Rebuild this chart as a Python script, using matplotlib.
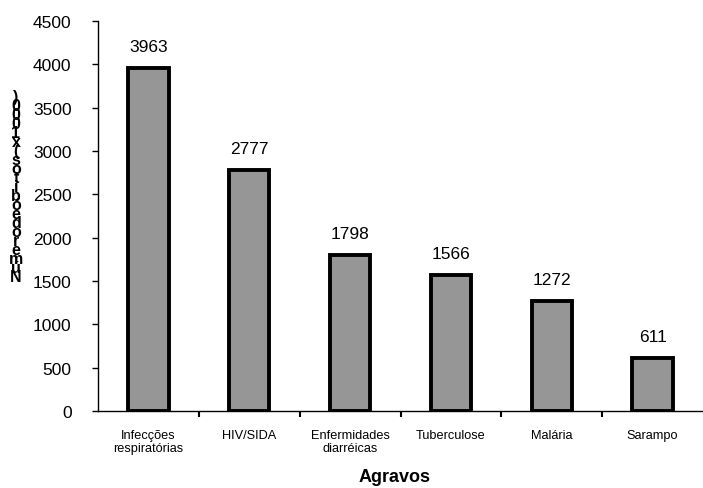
import numpy as np
import matplotlib
matplotlib.use("Agg")
from matplotlib import pyplot as plt

agravos = ["Infecções\nrespiratórias", "HIV/SIDA", "Enfermidades\ndiarréicas",
           "Tuberculose", "Malária", "Sarampo"]
obitos = [3963, 2777, 1798, 1566, 1272, 611]
yticks = [0, 500, 1000, 1500, 2000, 2500, 3000, 3500, 4000, 4500]
ylabel = "Número de óbitos (x1000)"

plt.rcParams['font.family'] = ['Liberation Sans', 'DejaVu Sans']

fig = plt.figure(figsize=(7.03, 4.89), dpi=100)
ax = fig.add_axes([98/703, 1-412/489, 605/703, 390/489])

x = np.arange(len(agravos))
bars = ax.bar(x, obitos, width=0.4, color='#969696', edgecolor='black', linewidth=2.8)

for xi, v in zip(x, obitos):
    ax.annotate(str(v), (xi, v), xytext=(0, 10), textcoords='offset points',
                ha='center', va='bottom', fontsize=12.5)

ax.set_xlim(-0.5, len(agravos) - 0.5)
ax.set_ylim(0, 4500)
ax.set_yticks(yticks)
ax.tick_params(axis='y', labelsize=12.5, length=4, width=1, direction='out', pad=15)

ax.set_xticks(x)
ax.set_xticklabels(agravos, fontsize=9.2, linespacing=1.1)
ax.tick_params(axis='x', which='major', length=0, pad=13)
ax.set_xticks(np.arange(0.5, len(agravos) - 0.5, 1), minor=True)
ax.tick_params(axis='x', which='minor', length=4, width=1.5, direction='out')

for s in ['top', 'right']:
    ax.spines[s].set_visible(False)
ax.spines['left'].set_linewidth(1)
ax.spines['bottom'].set_linewidth(1)

ax.set_xlabel("Agravos", fontsize=13, fontweight='bold')
ax.xaxis.set_label_coords(0.49, -0.145)

# eixo y: caracteres empilhados em ordem inversa
stacked = "\n".join(c for c in reversed(ylabel) if c != ' ')
fig.text(16/703, 1-188/489, stacked, ha='center', va='center', fontsize=11.5,
         fontweight='bold', linespacing=0.5, multialignment='center')

fig.savefig("out.png", dpi=100)
